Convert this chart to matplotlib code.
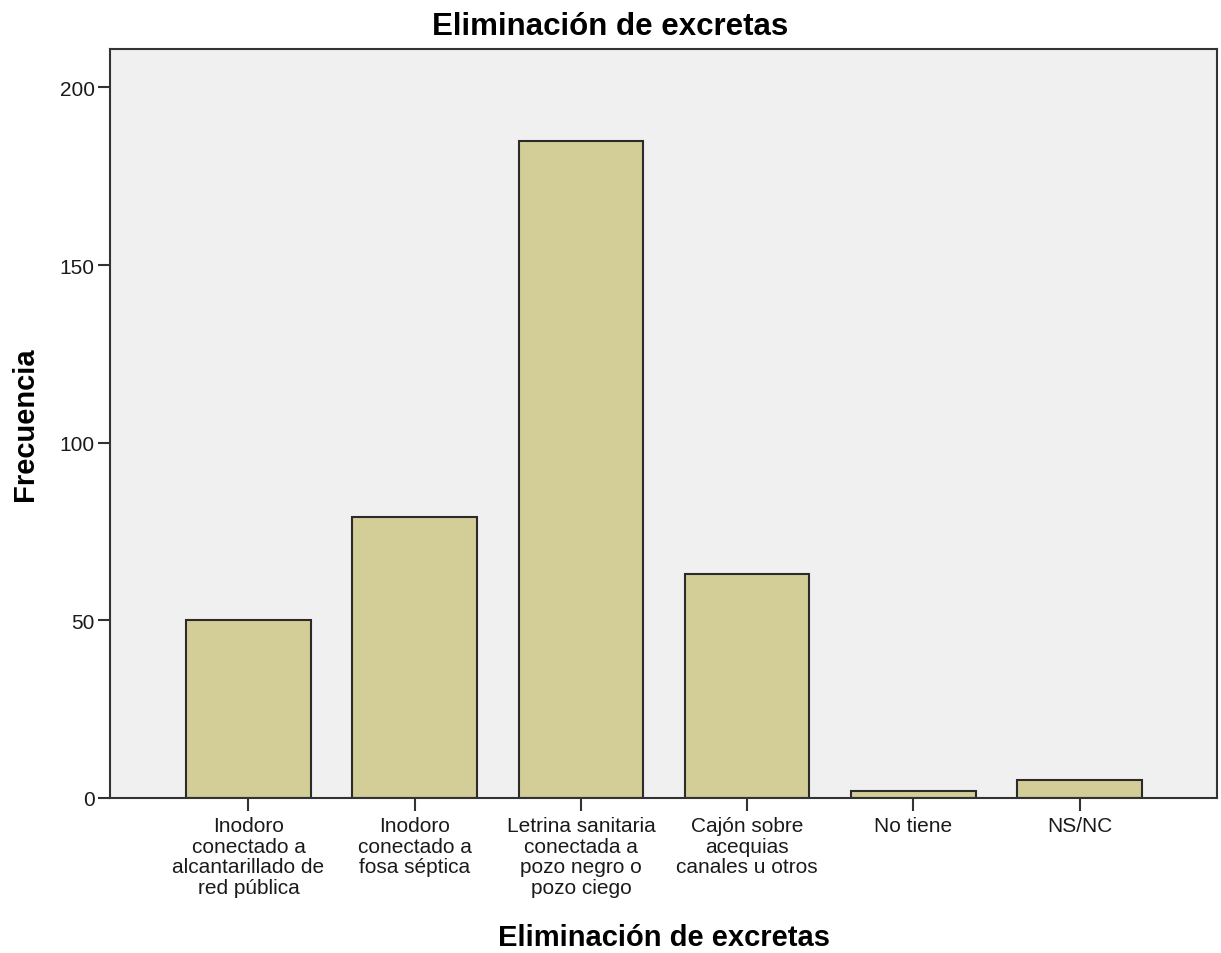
import matplotlib
matplotlib.use("Agg")
import matplotlib.pyplot as plt
import numpy as np

plt.rcParams['font.family'] = ['Liberation Sans', 'DejaVu Sans']

# data
categorias = [
    "Inodoro\nconectado a\nalcantarillado de\nred pública",
    "Inodoro\nconectado a\nfosa séptica",
    "Letrina sanitaria\nconectada a\npozo negro o\npozo ciego",
    "Cajón sobre\nacequias\ncanales u otros",
    "No tiene",
    "NS/NC",
]
frecuencias = [50, 79, 185, 63, 2, 5]
yticks = [0, 50, 100, 150, 200]

fig = plt.figure(figsize=(12.21, 9.54), dpi=100)
ax = fig.add_axes([0.0901, 0.1625, 0.9066, 0.7851])
ax.set_facecolor('#F0F0F0')

x = np.arange(len(categorias))
ax.bar(x, frecuencias, width=0.75, color='#D3CE97', edgecolor='#2B2B2B', linewidth=1.5, zorder=2)

ax.set_xlim(-0.833, len(categorias) - 1 + 0.827)
ax.set_ylim(0, 210.8)
ax.set_xticks(x)
ax.set_xticklabels(categorias, fontsize=15, linespacing=1.1, color='#1A1A1A')
ax.set_yticks(yticks)
ax.set_yticklabels([str(v) for v in yticks], fontsize=15, color='#1A1A1A')
ax.tick_params(axis='both', direction='out', length=9, width=1.5, color='#333333', pad=2)
ax.tick_params(axis='x', pad=4)

for s in ax.spines.values():
    s.set_color('#333333')
    s.set_linewidth(1.5)

# title is centred on the figure, not on the axes
fig.text(0.5, 1 - 27 / 954, 'Eliminación de excretas', fontsize=22.5, fontweight='bold',
         ha='center', va='center')
fig.text((110 + 1217) / 2 / 1221, 1 - 938 / 954, 'Eliminación de excretas', fontsize=21,
         fontweight='bold', ha='center', va='center')
fig.text(25 / 1221, 1 - 424 / 954, 'Frecuencia', fontsize=21, fontweight='bold',
         rotation=90, ha='center', va='center')

fig.savefig('out.png', dpi=100)
